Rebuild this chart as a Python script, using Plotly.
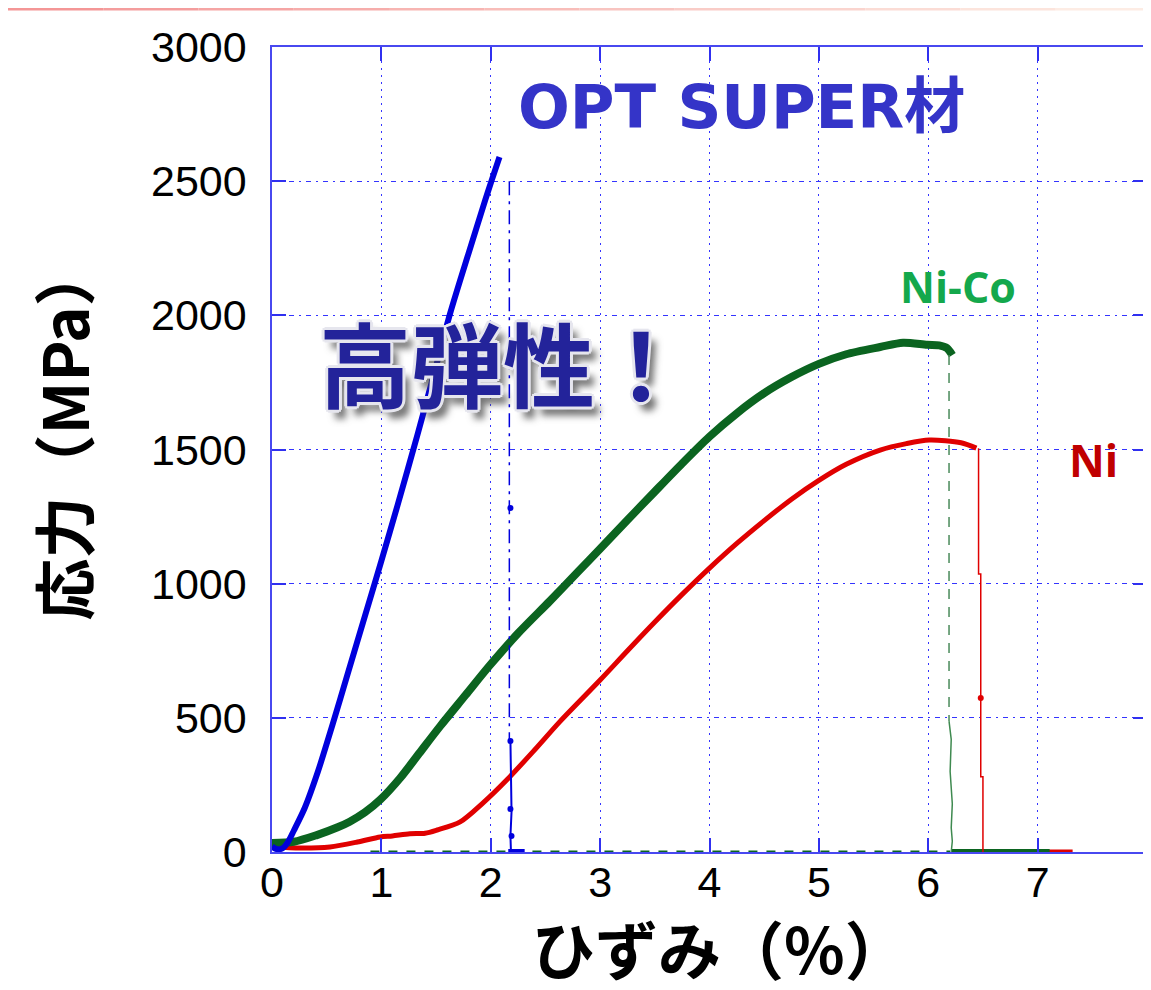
import plotly.graph_objects as go

# ---------------- data (strain %, stress MPa) ----------------
opt_strain = [0.0, 0.05, 0.10, 0.15, 0.20, 0.30, 0.42, 0.55, 0.70, 0.85, 1.00, 1.15, 1.33, 1.48, 1.63, 1.80, 1.95, 2.01, 2.08]
opt_stress = [20, 10, 15, 40, 80, 165, 300, 470, 675, 880, 1085, 1295, 1555, 1780, 2009, 2235, 2430, 2505, 2590]
opt_break_strain = [2.17, 2.17]
opt_break_stress = [2500, 420]
opt_drop_strain = [2.18, 2.185, 2.19, 2.18, 2.185]
opt_drop_stress = [414, 300, 150, 60, 0]
opt_pts_strain = [2.18, 2.18, 2.18, 2.19]
opt_pts_stress = [1282, 414, 160, 60]
opt_tail_strain = [2.16, 2.31]
opt_tail_stress = [0, 0]

nico_strain = [0.0, 0.20, 0.41, 0.60, 0.71, 0.85, 0.99, 1.17, 1.35, 1.54, 1.77, 1.99, 2.25, 2.54, 2.80, 3.00, 3.25, 3.50,
               3.75, 4.00, 4.25, 4.50, 4.75, 5.00, 5.25, 5.56, 5.77, 5.99, 6.10, 6.17, 6.22]
nico_stress = [34, 38, 63, 92, 113, 148, 195, 275, 370, 470, 585, 695, 815, 935, 1045, 1130, 1237, 1343,
               1448, 1548, 1635, 1710, 1770, 1819, 1855, 1882, 1898, 1890, 1888, 1878, 1852]
nico_break_strain = [6.19, 6.19]
nico_break_stress = [1852, 488]
nico_drop_strain = [6.19, 6.21, 6.20, 6.22, 6.21, 6.22, 6.21]
nico_drop_stress = [488, 420, 300, 180, 90, 40, 0]
nico_tail_strain = [6.21, 7.11]
nico_tail_stress = [0, 0]
nico_base_strain = [0.9, 6.2]
nico_base_stress = [0, 0]

ni_strain = [0.0, 0.26, 0.53, 0.78, 0.99, 1.10, 1.26, 1.40, 1.51, 1.72, 1.93, 2.15, 2.40, 2.63, 3.00, 3.25, 3.50,
             3.75, 4.00, 4.25, 4.50, 4.75, 5.00, 5.25, 5.56, 5.80, 6.01, 6.30, 6.44]
ni_stress = [20, 15, 19, 37, 56, 60, 68, 70, 82, 112, 183, 270, 380, 485, 641, 750, 857,
             960, 1058, 1150, 1235, 1315, 1385, 1445, 1498, 1522, 1535, 1525, 1505]
ni_drop_strain = [6.46, 6.46, 6.48, 6.48, 6.50, 6.50]
ni_drop_stress = [1505, 1036, 1036, 280, 280, 0]
ni_pts_strain = [6.48]
ni_pts_stress = [574]
ni_tail_strain = [6.50, 7.32]
ni_tail_stress = [0, 0]

x_ticks = [0, 1, 2, 3, 4, 5, 6, 7, 8]
y_ticks = [0, 500, 1000, 1500, 2000, 2500, 3000]

BLUE = "#0000dd"
GREEN = "#0b6420"
RED = "#e00000"

fig = go.Figure()

def line(x, y, color, width, dash="solid", mode="lines", msize=0, shape="linear"):
    fig.add_trace(go.Scatter(x=x, y=y, mode=mode,
                             line=dict(color=color, width=width, dash=dash, shape=shape, smoothing=0.8),
                             marker=dict(color=color, size=msize), hoverinfo="skip", showlegend=False,
                             cliponaxis=False))

# baselines / tails
line(nico_base_strain, nico_base_stress, GREEN, 3, dash="dash")
line(ni_tail_strain, ni_tail_stress, RED, 5)
line(nico_tail_strain, nico_tail_stress, GREEN, 6)

# Ni (red)
line(ni_strain, ni_stress, RED, 5, shape="spline")
line(ni_drop_strain, ni_drop_stress, RED, 1.5)
line(ni_pts_strain, ni_pts_stress, RED, 1, mode="markers", msize=6)

# Ni-Co (green)
line(nico_strain, nico_stress, GREEN, 8, shape="spline")
line(nico_break_strain, nico_break_stress, "#4a8a5a", 1.5, dash="10px,8px")
line(nico_drop_strain, nico_drop_stress, "#3f8a50", 1.5)

# OPT SUPER (blue)
line(opt_strain, opt_stress, BLUE, 6, shape="spline")
line(opt_break_strain, opt_break_stress, BLUE, 1.5, dash="14px,6px,3px,6px")
line(opt_drop_strain, opt_drop_stress, BLUE, 2)
line(opt_pts_strain, opt_pts_stress, BLUE, 1, mode="markers", msize=6)
line(opt_tail_strain, opt_tail_stress, BLUE, 6)

axis_common = dict(
    showline=True, linecolor="#4848f0", linewidth=1.5, mirror="allticks",
    ticks="inside", ticklen=14, tickwidth=1.5, tickcolor="#3030f0",
    showgrid=True, gridcolor="#3434ff", gridwidth=1.3,
    zeroline=False, automargin=False,
    tickfont=dict(family="Liberation Sans, Arial, sans-serif", size=43, color="black"),
)

fig.update_xaxes(range=[0, 8], tickvals=x_ticks, ticktext=[str(v) for v in x_ticks],
                 griddash="2px,5px", ticklabelstandoff=-8, **axis_common)
fig.update_yaxes(range=[0, 3000], tickvals=y_ticks, ticktext=[str(v) for v in y_ticks],
                 griddash="5px,5px,2px,5px", ticklabelstandoff=15, **axis_common)

outline = "#e6e6ee"
shadow = (f"-2px -2px 0 {outline}, 2px -2px 0 {outline}, -2px 2px 0 {outline}, 2px 2px 0 {outline}, "
          f"0 -3px 0 {outline}, 0 3px 0 {outline}, -3px 0 0 {outline}, 3px 0 0 {outline}, "
          "7px 9px 7px rgba(70,70,70,0.75)")

annotations = [
    dict(x=4.29, y=2780, xref="x", yref="y", text="<b>OPT SUPER材</b>", showarrow=False,
         font=dict(family="DejaVu Sans, Noto Sans CJK JP", size=61, color="#3434c8")),
    dict(x=6.27, y=2106, xref="x", yref="y", text="<b>Ni-Co</b>", showarrow=False,
         font=dict(family="Open Sans", size=43, color="#14a84c")),
    dict(x=7.51, y=1461, xref="x", yref="y", text="<b>Ni</b>", showarrow=False,
         font=dict(family="Open Sans", size=44, color="#c00000")),
    dict(x=2.11, y=1830, xref="x", yref="y", text="<b>高弾性！</b>", showarrow=False,
         font=dict(family="Noto Sans CJK JP", size=92, color="#23239a", shadow=shadow)),
    dict(x=0.512, y=-0.117, xref="paper", yref="paper", text="<b>ひずみ（%）</b>", showarrow=False,
         xanchor="center", yanchor="middle",
         font=dict(family="Noto Sans CJK JP", size=63, color="black")),
    dict(x=-0.240, y=0.521, xref="paper", yref="paper", text="<b>応力（MPa）</b>", showarrow=False,
         xanchor="center", yanchor="middle", textangle=-90,
         font=dict(family="Noto Sans CJK JP", size=62, color="black")),
]

# decorative pink gradient line at the very top of the image
W, H = 1143, 982
ML, MR, MT, MB = 264, 4, 39, 138
pw, ph = W - ML - MR, H - MT - MB
shapes = []
n_seg = 12
x0p, x1p = -ML / pw, (W - ML) / pw
yline = (H - MB - 1) / ph
c_start = (244, 150, 150)
c_end = (253, 236, 228)
for i in range(n_seg):
    t = i / (n_seg - 1)
    c = tuple(int(c_start[k] + (c_end[k] - c_start[k]) * t) for k in range(3))
    shapes.append(dict(type="line", xref="paper", yref="paper",
                       x0=x0p + (x1p - x0p) * i / n_seg, x1=x0p + (x1p - x0p) * (i + 1) / n_seg,
                       y0=yline, y1=yline, line=dict(color=f"rgb{c}", width=3)))

fig.update_layout(
    width=W, height=H,
    margin=dict(l=ML, r=MR, t=MT, b=MB),
    paper_bgcolor="white", plot_bgcolor="white",
    showlegend=False,
    annotations=annotations,
    shapes=shapes,
)

fig.write_html("out.html")
